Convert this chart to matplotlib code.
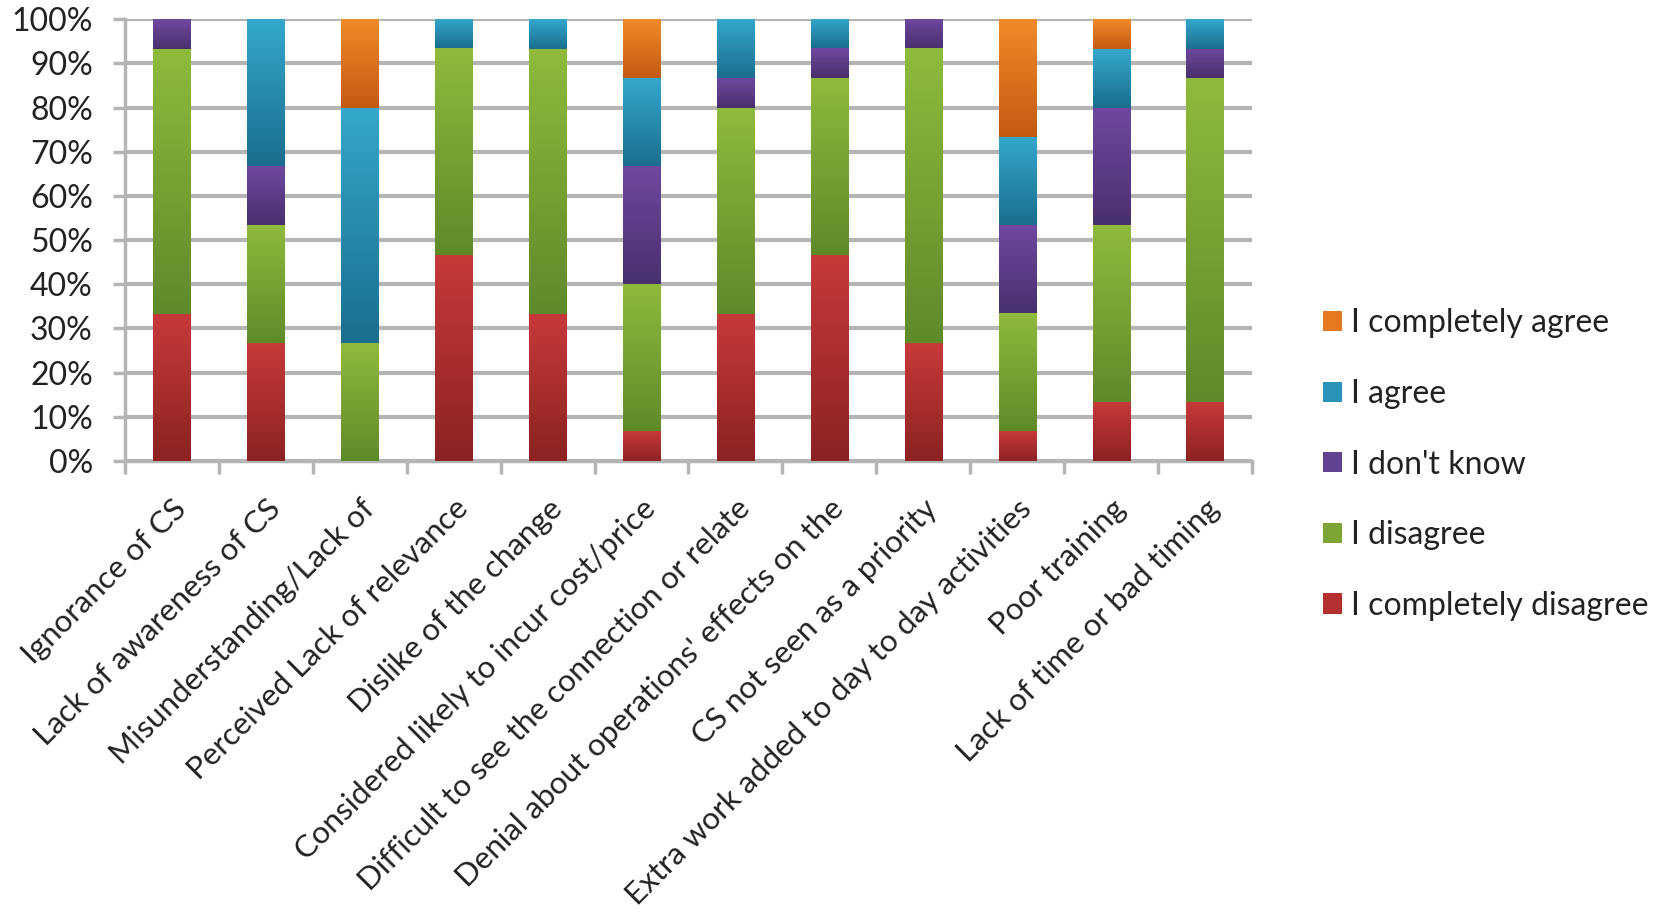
import numpy as np
import matplotlib
matplotlib.use("Agg")
import matplotlib.pyplot as plt
from matplotlib.patches import Patch
from matplotlib.colors import to_rgb

plt.rcParams["font.family"] = ["Lato", "DejaVu Sans"]

categories = [
    "Ignorance of CS",
    "Lack of awareness of CS",
    "Misunderstanding/Lack of",
    "Perceived Lack of relevance",
    "Dislike of the change",
    "Considered likely to incur cost/price",
    "Difficult to see the connection or relate",
    "Denial about operations' effects on the",
    "CS not seen as a priority",
    "Extra work added to day to day activities",
    "Poor training",
    "Lack of time or bad timing",
]

# percentages of respondents per answer
completely_disagree = [33.3, 26.7, 0.0, 46.7, 33.3, 6.7, 33.3, 46.7, 26.7, 6.7, 13.3, 13.3]
disagree = [60.0, 26.7, 26.7, 46.7, 60.0, 33.3, 46.7, 40.0, 66.7, 26.7, 40.0, 73.3]
dont_know = [6.7, 13.3, 0.0, 0.0, 0.0, 26.7, 6.7, 6.7, 6.7, 20.0, 26.7, 6.7]
agree = [0.0, 33.3, 53.3, 6.7, 6.7, 20.0, 13.3, 6.7, 0.0, 20.0, 13.3, 6.7]
completely_agree = [0.0, 0.0, 20.0, 0.0, 0.0, 13.3, 0.0, 0.0, 0.0, 26.7, 6.7, 0.0]

series = [
    ("I completely disagree", completely_disagree, "#b3302f", "#c63a38", "#8c2222"),
    ("I disagree", disagree, "#7ea436", "#8fba3c", "#5f8a2a"),
    ("I don't know", dont_know, "#604290", "#7048a0", "#48306e"),
    ("I agree", agree, "#2a94b8", "#33a8cc", "#1b6e8e"),
    ("I completely agree", completely_agree, "#e6791f", "#f28a2a", "#c45a10"),
]

fig = plt.figure(figsize=(16.63, 9.18), dpi=100)
ax = fig.add_axes([0.075, 0.498, 0.678, 0.481])

x = np.arange(len(categories))
bottom = np.zeros(len(categories))
grid_col = "#b5b5b5"
text_col = "#222222"

for name, vals, base, top_c, bot_c in series:
    vals = np.array(vals)
    bars = ax.bar(x, vals, 0.4, bottom=bottom, color=base, zorder=3, linewidth=0)
    # vertical shading inside each segment
    grad = np.linspace(0, 1, 64)[:, None]
    c1, c2 = np.array(to_rgb(top_c)), np.array(to_rgb(bot_c))
    img = (c1 * (1 - grad) + c2 * grad)[:, None, :]
    for p in bars:
        if p.get_height() <= 0:
            continue
        x0, y0, w, h = p.get_x(), p.get_y(), p.get_width(), p.get_height()
        im = ax.imshow(img, extent=[x0, x0 + w, y0, y0 + h], aspect="auto",
                       origin="upper", zorder=4, interpolation="bilinear")
        im.set_clip_path(p)
    bottom += vals

ax.set_xlim(-0.5, len(categories) - 0.5)
ax.set_ylim(0, 100)
ax.set_yticks(np.arange(0, 101, 10))
ax.set_yticklabels([f"{v}%" for v in range(0, 101, 10)])
ax.yaxis.grid(True, color=grid_col, linewidth=3, zorder=1)
ax.set_axisbelow(True)

for s in ["top", "right"]:
    ax.spines[s].set_visible(False)
for s in ["left", "bottom"]:
    ax.spines[s].set_color(grid_col)
    ax.spines[s].set_linewidth(2.5)

ax.tick_params(axis="y", length=9, width=2.5, color=grid_col, labelsize=23,
               labelcolor=text_col, pad=14)
ax.set_xticks(np.arange(-0.5, len(categories), 1))
ax.tick_params(axis="x", which="major", length=9, width=2.5, color=grid_col,
               labelbottom=False)
ax.set_xticks(x, minor=True)
ax.set_xticklabels(categories, minor=True, rotation=45, ha="right",
                   rotation_mode="anchor", fontsize=22.5, color=text_col)
ax.tick_params(axis="x", which="minor", length=0, pad=24)

handles = [Patch(facecolor=base, label=name) for name, _, base, _, _ in series][::-1]
fig.legend(handles=handles, loc="center left", bbox_to_anchor=(0.778, 0.494),
           frameon=False, fontsize=23, labelspacing=1.27, handlelength=0.6,
           handleheight=0.6, handletextpad=0.3, labelcolor=text_col)

fig.savefig("out.png", dpi=100)
